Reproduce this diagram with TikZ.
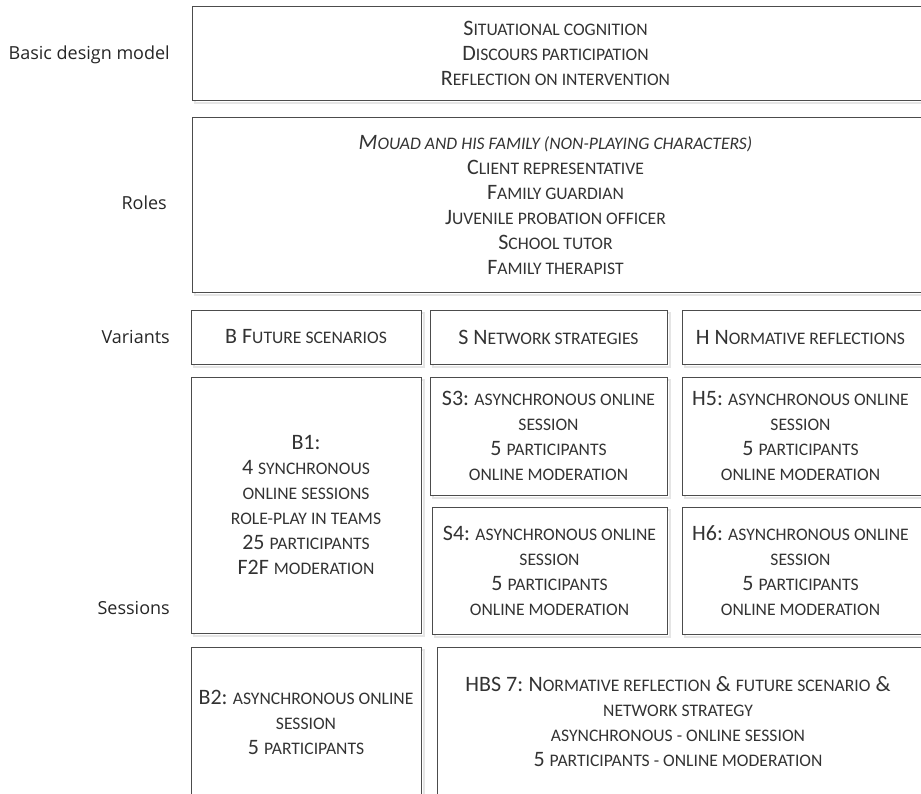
\documentclass[tikz,border=0pt]{standalone}
\usepackage{fontspec}
\setmainfont{Carlito}
\newfontfamily\labelfont{Open Sans}
\newcommand{\lc}[1]{{\fontsize{17.6}{25}\selectfont\MakeUppercase{#1}}}
\newcommand{\bx}[4]{%
  \draw[shadowline] (#1+2.5,#2+2.5) rectangle (#3+2.5,#4+2.5);
  \fill[white] (#1,#2) rectangle (#3,#4);
  \draw[boxline] (#1,#2) rectangle (#3,#4);}
\tikzset{
  boxline/.style={draw=black!70, line width=1pt},
  shadowline/.style={draw=black!10, line width=2pt},
  boxtext/.style={align=center, text=black!80, inner sep=0pt, font=\fontsize{22}{25}\selectfont},
  lbl/.style={anchor=east, inner sep=0pt, text=black!85, font=\labelfont\fontsize{18}{21}\selectfont},
}
\begin{document}
\begin{tikzpicture}[x=1pt,y=-1pt]
\useasboundingbox (0,0) rectangle (921,793);
\clip (0,0) rectangle (921,793);
% boxes
\bx{192}{6}{925}{100}
\bx{192}{117}{925}{292}
\bx{191}{310}{421}{364}
\bx{430}{310}{667}{364}
\bx{682}{310}{925}{364}
\bx{191}{377}{421}{633}
\bx{430}{377}{667}{495}
\bx{682}{377}{925}{495}
\bx{432}{507}{667}{634}
\bx{682}{507}{925}{634}
\bx{191}{647}{421}{805}
\bx{437}{647}{925}{805}
% row labels
\node[lbl] (lbasic) at (170,55) {Basic design model};
\node[lbl] (lroles) at (167,203) {Roles};
\node[lbl] (lvar) at (170,337) {Variants};
\node[lbl] (lses) at (170,608) {Sessions};
% texts
\node[boxtext] (tbasic) at (555.5,53) {S\lc{ituational cognition}\\D\lc{iscours participation}\\R\lc{eflection on intervention}};
\node[boxtext] (troles) at (555.5,204.5) {\itshape M\lc{ouad and his family (non-playing characters)}\\C\lc{lient representative}\\F\lc{amily guardian}\\J\lc{uvenile probation officer}\\S\lc{chool tutor}\\F\lc{amily therapist}};
\node[boxtext] (tvb) at (306,337) {B F\lc{uture scenarios}};
\node[boxtext] (tvs) at (548.5,337) {S N\lc{etwork strategies}};
\node[boxtext] (tvh) at (800.5,337) {H N\lc{ormative reflections}};
\node[boxtext] (tb1) at (306,505) {B1:\\4 \lc{synchronous}\\\lc{online sessions}\\\lc{role-play in teams}\\25 \lc{participants}\\F2F \lc{moderation}};
\node[boxtext] (ts3) at (548.5,436) {S3:\lc{ asynchronous online}\\\lc{session}\\5 \lc{participants}\\\lc{online moderation}};
\node[boxtext] (th5) at (800.5,436) {H5:\lc{ asynchronous online}\\\lc{session}\\5 \lc{participants}\\\lc{online moderation}};
\node[boxtext] (ts4) at (549.5,570.5) {S4:\lc{ asynchronous online}\\\lc{session}\\5 \lc{participants}\\\lc{online moderation}};
\node[boxtext] (th6) at (800.5,570.5) {H6:\lc{ asynchronous online}\\\lc{session}\\5 \lc{participants}\\\lc{online moderation}};
\node[boxtext] (tb2) at (306,722) {B2:\lc{ asynchronous online}\\\lc{session}\\5 \lc{participants}};
\node[boxtext] (thbs) at (678,722) {HBS 7:\lc{ }N\lc{ormative reflection} \& \lc{future scenario} \&\\\lc{network strategy}\\\lc{asynchronous - online session}\\5 \lc{participants - online moderation}};
\end{tikzpicture}
\end{document}
